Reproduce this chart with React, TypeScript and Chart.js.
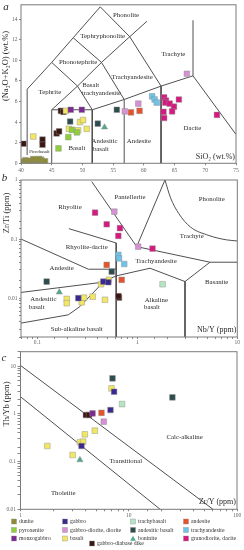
import React, { useEffect, useRef } from 'react';
import { Chart, registerables } from 'chart.js';

Chart.register(...registerables);

const SERIF = '"Liberation Serif", "Times New Roman", Times, serif';
type P = [number, number];

// ---------- categories (legend order) ----------
const categories = [
  'dunite', 'pyroxenite', 'monzogabbro',
  'gabbro', 'gabbro-diorite, diorite', 'basalt',
  'trachybasalt', 'andesitic basalt', 'boninite',
  'andesite', 'trachyandesite', 'granodiorite, dacite',
  'gabbro-diabase dike',
];
const categoryColors = [
  '#8f8b34', '#8fcf3c', '#7a2a92',
  '#3b2a8e', '#d890d4', '#f1e763',
  '#b5e6c3', '#2e4b4d', '#4fa98e',
  '#e6532b', '#6ec3e8', '#d5197f',
  '#3a1613',
];
const categoryShapes = [
  'rect', 'rect', 'rect', 'rect', 'rect', 'rect',
  'rect', 'rect', 'triangle', 'rect', 'rect', 'rect', 'rect',
];

// ---------- panel a: TAS  [SiO2 wt.%, Na2O+K2O wt.%] ----------
const tasDunite: P[] = [[40.3, 0.15], [40.7, 0.3], [41.1, 0.1], [41.5, 0.25], [41.9, 0.12], [42.3, 0.3], [42.7, 0.1], [43.1, 0.28], [43.5, 0.15], [43.9, 0.2], [42.0, 0.4], [42.9, 0.42]];
const tasPyroxenite: P[] = [[46.1, 1.45], [48.3, 3.25], [49.1, 3.0], [47.7, 2.55], [41.7, 0.2], [43.3, 0.35]];
const tasMonzogabbro: P[] = [[48.1, 5.2], [49.9, 5.2]];
const tasGabbro: P[] = [];
const tasGabbroDiorite: P[] = [[56.9, 5.05], [59.1, 5.8], [67.0, 8.7]];
const tasBasalt: P[] = [[42.0, 2.6], [47.3, 5.1], [49.6, 4.0], [50.1, 4.2], [49.3, 3.2], [50.7, 3.35], [47.8, 3.35]];
const tasTrachybasalt: P[] = [];
const tasAndesiticBasalt: P[] = [[48.0, 4.06], [52.5, 3.85], [55.6, 5.2]];
const tasBoninite: P[] = [[53.6, 3.5]];
const tasAndesite: P[] = [[57.9, 4.95], [59.3, 5.1]];
const tasTrachyandesite: P[] = [[61.35, 6.5], [61.75, 6.2], [62.1, 5.9]];
const tasGranodiorite: P[] = [[63.3, 6.4], [63.6, 6.1], [63.5, 5.9], [64.2, 5.8], [64.9, 5.5], [64.6, 5.05], [63.2, 5.0], [63.3, 4.4], [65.7, 6.2], [71.9, 4.7]];
const tasDike: P[] = [[40.4, 1.9], [43.5, 2.3], [43.5, 1.8], [45.8, 2.9], [46.2, 3.1], [46.5, 5.1], [46.9, 5.0]];
const tasSeries: P[][] = [tasDunite, tasPyroxenite, tasMonzogabbro, tasGabbro, tasGabbroDiorite, tasBasalt, tasTrachybasalt, tasAndesiticBasalt, tasBoninite, tasAndesite, tasTrachyandesite, tasGranodiorite, tasDike];

const tasBoundaries: P[][] = [
  [[41, 0.8], [41, 7.2], [45, 9.8], [48.5, 12.2], [52.9, 15.2]],
  [[52.9, 15.2], [57.7, 12.3], [62.8, 7.5], [62.8, 0]],
  [[45, 0], [45, 5.2], [51.6, 5.2], [51.6, 0]],
  [[45, 5.2], [49.2, 7.5], [53.1, 9.8], [57.7, 12.3], [60.5, 13.8]],
  [[45, 9.8], [49.2, 7.5], [51.6, 5.2]],
  [[48.5, 12.2], [53.1, 9.8], [56.8, 6.2]],
  [[51.6, 5.2], [56.8, 6.2], [62.8, 7.5], [68, 8.5], [68, 13.9]],
  [[56.8, 0], [56.8, 6.2]],
  [[68, 8.5], [75, 2.8]],
];
const tasFieldLabels: [string, number, number][] = [
  ['Phonolite', 57.1, 14.4],
  ['Tephryphonolite', 53.3, 12.35],
  ['Phonotephrite', 49.3, 9.8],
  ['Trachyte', 64.8, 10.6],
  ['Trachyandesite', 58.1, 8.4],
  ['Tephrite', 44.7, 6.9],
  ['Basalt', 51.35, 7.6],
  ['trachyandesite', 53.1, 6.8],
  ['Basalt', 49.1, 1.5],
  ['Andesitic', 53.6, 2.1],
  ['basalt', 53.0, 1.4],
  ['Picrobasalt', 43.0, 1.15],
  ['Andesite', 59.2, 2.1],
  ['Dacite', 67.9, 3.4],
];

// ---------- panel b: [Nb/Y, Zr/Ti] ----------
const zrDunite: P[] = [];
const zrPyroxenite: P[] = [];
const zrMonzogabbro: P[] = [];
const zrGabbro: P[] = [[0.457, 0.0191], [0.513, 0.0186], [0.257, 0.0100]];
const zrGabbroDiorite: P[] = [[0.589, 0.291], [1.02, 0.0745]];
const zrBasalt: P[] = [[0.434, 0.0172], [0.52, 0.0205], [0.197, 0.0097], [0.197, 0.0082], [0.278, 0.0085], [0.293, 0.0102], [0.358, 0.0106], [0.475, 0.0094]];
const zrTrachybasalt: P[] = [[1.79, 0.0172]];
const zrAndesiticBasalt: P[] = [[0.555, 0.0282], [0.124, 0.0191]];
const zrBoninite: P[] = [[0.166, 0.0126]];
const zrAndesite: P[] = [[0.494, 0.0366], [0.698, 0.0204]];
const zrTrachyandesite: P[] = [[0.646, 0.054], [0.656, 0.047], [0.74, 0.0378]];
const zrGranodiorite: P[] = [[0.378, 0.28], [0.494, 0.178], [0.671, 0.153], [0.646, 0.113], [1.42, 0.069]];
const zrDike: P[] = [[0.656, 0.0102], [0.648, 0.0108]];
const zrSeries: P[][] = [zrDunite, zrPyroxenite, zrMonzogabbro, zrGabbro, zrGabbroDiorite, zrBasalt, zrTrachybasalt, zrAndesiticBasalt, zrBoninite, zrAndesite, zrTrachyandesite, zrGranodiorite, zrDike];

const zrBoundaries: P[][] = [
  [[0.35, 0.94], [0.986, 0.0745]],
  [[0.986, 0.0745], [1.89, 1]],
  [[0.986, 0.0745], [5.33, 0.0406], [10, 0.0406]],
  [[5.33, 0.0406], [3.0, 0.0191], [3.0, 0.0022]],
  [[0.0687, 0.0125], [0.44, 0.0185], [0.615, 0.0238], [1.34, 0.0321], [3.0, 0.0191]],
  [[0.207, 0.15], [0.615, 0.086], [0.615, 0.0022]],
  [[0.0687, 0.1], [0.324, 0.0309], [0.615, 0.0309]],
  [[0.0687, 0.00378], [0.204, 0.00522], [0.267, 0.00721], [0.441, 0.0175]],
];
const zrPhonoliteCurve: P[] = [[1.89, 1], [2.15, 0.5], [2.6, 0.27], [3.4, 0.16], [5.2, 0.115], [7.8, 0.097], [10, 0.093]];
const zrFieldLabels: [string, number, number][] = [
  ['Rhyolite', 0.212, 0.34],
  ['Pantellerite', 0.845, 0.51],
  ['Phonolite', 5.55, 0.472],
  ['Trachyte', 3.5, 0.113],
  ['Rhyolite-dacite', 0.312, 0.0717],
  ['Trachyandesite', 1.54, 0.0428],
  ['Andesite', 0.175, 0.0321],
  ['Basanite', 6.22, 0.0187],
  ['Alkaline', 1.55, 0.0094],
  ['basalt', 1.40, 0.0070],
  ['Andesitic', 0.115, 0.0097],
  ['basalt', 0.0986, 0.0069],
  ['Sub-alkaline basalt', 0.248, 0.00303],
];

// ---------- panel c: [Zr/Y, Th/Yb] ----------
const thDunite: P[] = [];
const thPyroxenite: P[] = [];
const thMonzogabbro: P[] = [[4.63, 1.02]];
const thGabbro: P[] = [[7.32, 2.9], [6.78, 1.2], [3.66, 0.212]];
const thGabbroDiorite: P[] = [[5.88, 0.684]];
const thBasalt: P[] = [[6.93, 3.41], [4.86, 0.443], [3.93, 0.372], [3.54, 0.254], [3.79, 0.261], [1.77, 0.212], [3.03, 0.137]];
const thTrachybasalt: P[] = [[8.67, 1.6]];
const thAndesiticBasalt: P[] = [[7.08, 5.53], [25.3, 2.21]];
const thBoninite: P[] = [[3.54, 0.108]];
const thAndesite: P[] = [[5.6, 1.05]];
const thTrachyandesite: P[] = [];
const thGranodiorite: P[] = [];
const thDike: P[] = [[4.02, 0.944], [4.3, 0.944]];
const thSeries: P[][] = [thDunite, thPyroxenite, thMonzogabbro, thGabbro, thGabbroDiorite, thBasalt, thTrachybasalt, thAndesiticBasalt, thBoninite, thAndesite, thTrachyandesite, thGranodiorite, thDike];

const thBoundaries: P[][] = [
  [[1, 10.3], [60, 0.01]],
  [[1, 2.28], [19.5, 0.01]],
];
const thFieldLabels: [string, number, number][] = [
  ['Calc-alkaline', 32.8, 0.322],
  ['Transitional', 9.38, 0.103],
  ['Tholeiite', 2.48, 0.0217],
];

// ---------- helpers ----------
const tickFont = { family: SERIF, size: 5.5 };

function logLabel(v: any) {
  const n = Number(v);
  const l = Math.log10(n);
  if (Math.abs(l - Math.round(l)) > 1e-6) return '';
  const e = Math.round(l);
  return e >= 0 ? String(Math.round(n)) : n.toFixed(-e);
}

function pointDatasets(series: P[][]) {
  return series.map((pts, i) => ({
    label: categories[i],
    data: pts.map(([x, y]) => ({ x, y })),
    backgroundColor: categoryColors[i],
    borderColor: 'rgba(140,140,140,0.75)',
    borderWidth: 0.6,
    pointStyle: categoryShapes[i],
    pointRadius: categoryShapes[i] === 'triangle' ? 3.6 : 4,
    showLine: false,
    order: 0,
  }));
}

function lineDatasets(lines: P[][], extra: any = {}) {
  return lines.map((pts) => ({
    label: 'boundary',
    data: pts.map(([x, y]) => ({ x, y })),
    showLine: true,
    borderColor: '#505050',
    borderWidth: 1,
    pointRadius: 0,
    fill: false,
    order: 1,
    ...extra,
  }));
}

function axis(type: string, min: number, max: number, side: 'x' | 'y', fitPx: number, extraTicks: any = {}, tickLen = 2) {
  return {
    type,
    min,
    max,
    ticks: {
      font: tickFont,
      color: '#666',
      padding: 1,
      autoSkip: false,
      maxRotation: 0,
      includeBounds: false,
      ...(type === 'logarithmic' ? { callback: logLabel } : {}),
      ...extraTicks,
    },
    grid: { drawOnChartArea: false, drawTicks: true, tickLength: tickLen, color: '#888' },
    border: { display: false },
    afterFit: (s: any) => {
      if (side === 'x') s.height = fitPx;
      else s.width = fitPx;
    },
  };
}

const decor = {
  id: 'decor',
  beforeDatasetsDraw(chart: any, _a: any, o: any) {
    const { ctx, scales } = chart;
    ctx.save();
    ctx.fillStyle = '#2b2b2b';
    ctx.textAlign = 'center';
    ctx.textBaseline = 'middle';
    (o.labels || []).forEach(([t, x, y]: [string, number, number]) => {
      const size = (o.small || []).includes(t) ? 4.6 : o.labelSize || 6.8;
      ctx.font = `${size}px ${SERIF}`;
      ctx.fillText(t, scales.x.getPixelForValue(x), scales.y.getPixelForValue(y));
    });
    ctx.restore();
  },
  afterDraw(chart: any, _a: any, o: any) {
    const { ctx, chartArea: a } = chart;
    ctx.save();
    ctx.strokeStyle = '#7a7a7a';
    ctx.lineWidth = 1;
    ctx.strokeRect(a.left, a.top, a.right - a.left, a.bottom - a.top);
    ctx.fillStyle = '#2b2b2b';
    // x title (inside, bottom-right)
    ctx.font = `8px ${SERIF}`;
    ctx.textAlign = 'right';
    ctx.textBaseline = 'middle';
    ctx.fillText(o.xTitle, a.right - 1, a.bottom - o.xTitleUp);
    // y title (rotated)
    ctx.save();
    ctx.translate(o.yTitleX, o.yTitleY);
    ctx.rotate(-Math.PI / 2);
    ctx.textAlign = 'center';
    ctx.font = `8.5px ${SERIF}`;
    ctx.fillText(o.yTitle, 0, 0);
    ctx.restore();
    // panel letter
    ctx.font = `italic 11px ${SERIF}`;
    ctx.textAlign = 'center';
    ctx.fillText(o.letter, o.letterX, o.letterY);
    // legend
    if (o.legend) {
      const colX = [11.5, 62.5, 130.5, 183.5];
      const rowY = [176.5, 185, 193.5];
      ctx.font = `5.8px ${SERIF}`;
      ctx.textAlign = 'left';
      categories.forEach((name, i) => {
        let bx: number, cy: number;
        if (i < 12) {
          bx = colX[Math.floor(i / 3)];
          cy = rowY[i % 3];
        } else {
          bx = 89.5;
          cy = 198.5;
        }
        ctx.fillStyle = categoryColors[i];
        ctx.strokeStyle = 'rgba(140,140,140,0.75)';
        ctx.lineWidth = 0.5;
        if (categoryShapes[i] === 'triangle') {
          ctx.beginPath();
          ctx.moveTo(bx + 2.5, cy - 2.7);
          ctx.lineTo(bx + 5.3, cy + 2.3);
          ctx.lineTo(bx - 0.3, cy + 2.3);
          ctx.closePath();
          ctx.fill();
        } else {
          ctx.fillRect(bx, cy - 2.5, 5, 5);
          ctx.strokeRect(bx, cy - 2.5, 5, 5);
        }
        ctx.fillStyle = '#333';
        ctx.fillText(name, bx + 7.5, cy + 0.3);
      });
    }
    ctx.restore();
  },
};

function baseOptions(padding: any, scales: any, decorOpts: any) {
  return {
    responsive: false,
    maintainAspectRatio: false,
    animation: false,
    events: [],
    layout: { padding },
    scales,
    plugins: {
      legend: { display: false },
      tooltip: { enabled: false },
      decor: decorOpts,
    },
  };
}

export default function App() {
  const refA = useRef<HTMLCanvasElement>(null);
  const refB = useRef<HTMLCanvasElement>(null);
  const refC = useRef<HTMLCanvasElement>(null);

  useEffect(() => {
    const a = new Chart(refA.current as any, {
      type: 'scatter',
      data: { datasets: [...pointDatasets(tasSeries), ...lineDatasets(tasBoundaries)] as any },
      options: baseOptions(
        { top: 3, right: 8, left: 0, bottom: 0 },
        {
          x: axis('linear', 40, 75, 'x', 176 - 163.3, { stepSize: 5, padding: 1.5 }),
          y: axis('linear', 0, 15.4, 'y', 21, { stepSize: 2, padding: 1.5 }),
        },
        {
          labels: tasFieldLabels, small: ['Picrobasalt'], labelSize: 6.8,
          xTitle: 'SiO₂ (wt.%)', xTitleUp: 6.3,
          yTitle: '(Na₂O+K₂O) (wt.%)', yTitleX: 6, yTitleY: 66,
          letter: 'a', letterX: 6, letterY: 7,
        },
      ) as any,
      plugins: [decor],
    });

    const b = new Chart(refB.current as any, {
      type: 'scatter',
      data: {
        datasets: [
          ...pointDatasets(zrSeries),
          ...lineDatasets(zrBoundaries),
          ...lineDatasets([zrPhonoliteCurve], { cubicInterpolationMode: 'monotone' }),
        ] as any,
      },
      options: baseOptions(
        { top: 10, right: 6.7, left: 0, bottom: 0 },
        {
          x: axis('logarithmic', 0.0687, 10, 'x', 8, { padding: 0 }),
          y: axis('logarithmic', 0.0022, 1, 'y', 21, { padding: 1.5 }),
        },
        {
          labels: zrFieldLabels, labelSize: 6.8,
          xTitle: 'Nb/Y (ppm)', xTitleUp: 7,
          yTitle: 'Zr/Ti (ppm)', yTitleX: 6.5, yTitleY: 43,
          letter: 'b', letterX: 4.5, letterY: 8,
        },
      ) as any,
      plugins: [decor],
    });

    const c = new Chart(refC.current as any, {
      type: 'scatter',
      data: { datasets: [...pointDatasets(thSeries), ...lineDatasets(thBoundaries)] as any },
      options: baseOptions(
        { top: 6.7, right: 7, left: 0, bottom: 33 },
        {
          x: axis('logarithmic', 1, 100, 'x', 7.7, { padding: 0.5 }),
          y: axis('logarithmic', 0.01, 20, 'y', 20.5, { padding: 1.5 }, 3),
        },
        {
          labels: thFieldLabels, labelSize: 6.8,
          xTitle: 'Zr/Y (ppm)', xTitleUp: 7.6,
          yTitle: 'Th/Yb (ppm)', yTitleX: 6.5, yTitleY: 59,
          letter: 'c', letterX: 4, letterY: 13,
          legend: true,
        },
      ) as any,
      plugins: [decor],
    });

    return () => {
      a.destroy();
      b.destroy();
      c.destroy();
    };
  }, []);

  return (
    <div style={{ position: 'absolute', left: 0, top: 0, width: 244, height: 550, background: '#fff', overflow: 'hidden' }}>
      <canvas ref={refA} width={244} height={176} style={{ position: 'absolute', left: 0, top: 0, width: 244, height: 176 }} />
      <canvas ref={refB} width={244} height={175} style={{ position: 'absolute', left: 0, top: 170, width: 244, height: 175 }} />
      <canvas ref={refC} width={244} height={205} style={{ position: 'absolute', left: 0, top: 345, width: 244, height: 205 }} />
    </div>
  );
}
